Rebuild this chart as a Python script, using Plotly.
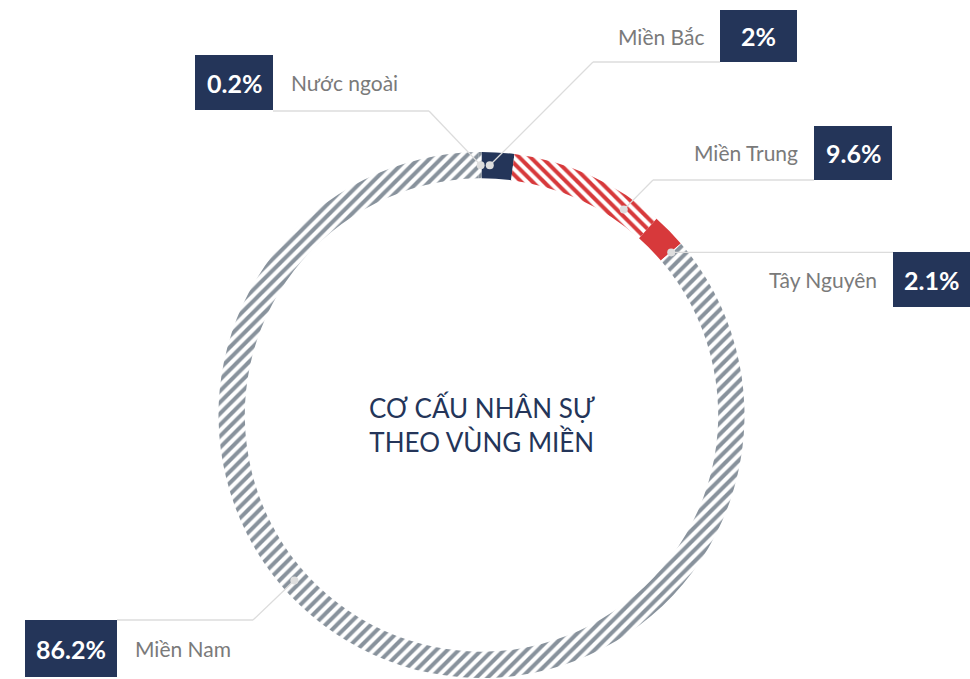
import math
import plotly.graph_objects as go

# ---- data ----
regions = ["Miền Bắc", "Miền Trung", "Tây Nguyên", "Miền Nam", "Nước ngoài"]
shares = [2, 9.6, 2.1, 86.2, 0.2]
title_lines = ["CƠ CẤU NHÂN SỰ", "THEO VÙNG MIỀN"]

# ---- style ----
W, H = 970, 679
OFF = 0  # body margin removed by post_script
NAVY = "#243559"
RED = "#d7393b"
GRAY = "#88929c"
LABEL = "#7a7a7a"
LINE = "#dcdcdc"
FONT = "Lato"

CX, CY, R_OUT = 481.5, 415.0, 263.0
HOLE = 0.90
R_MID = R_OUT * (1 + HOLE) / 2

def P(x, y):
    return (x - OFF) / W, 1 - (y - OFF) / H

x0, _ = P(CX - R_OUT, 0)
x1, _ = P(CX + R_OUT, 0)
_, y1 = P(0, CY - R_OUT)
_, y0 = P(0, CY + R_OUT)

fig = go.Figure()
fig.add_trace(go.Pie(
    labels=regions,
    values=shares,
    sort=False,
    direction="clockwise",
    rotation=0,
    hole=HOLE,
    textinfo="none",
    hoverinfo="label+value",
    showlegend=False,
    domain=dict(x=[x0, x1], y=[y0, y1]),
    marker=dict(
        colors=[NAVY, "white", RED, "white", "white"],
        line=dict(width=0),
        pattern=dict(
            shape=["", "\\", "", "/", "/"],
            fgcolor=[NAVY, RED, RED, GRAY, GRAY],
            bgcolor=["white", "white", "white", "white", "white"],
            size=8,
            solidity=0.5,
        ),
    ),
))

# label layout: anchor angle (deg clockwise from top), elbow point, box rect, side
label_layout = {
    "Miền Bắc":   dict(ang=1.9,   elbow=(593, 62),  box=(720, 10, 797, 62),   side="right"),
    "Miền Trung": dict(ang=34.7,  elbow=(653, 180), box=(814, 126, 892, 180), side="right"),
    "Tây Nguyên": dict(ang=49.4,  elbow=None,       box=(893, 252, 970, 307), side="right"),
    "Miền Nam":   dict(ang=228.5, elbow=(253, 620), box=(25, 620, 117, 677),  side="left"),
    "Nước ngoài": dict(ang=-0.2,  elbow=(429, 111), box=(195, 55, 273, 110),  side="left"),
}

shapes = []
annotations = []
for name, val in zip(regions, shares):
    cfg = label_layout[name]
    a = math.radians(cfg["ang"])
    dx, dy = CX + R_MID * math.sin(a), CY - R_MID * math.cos(a)
    bx0, by0, bx1, by1 = cfg["box"]
    if cfg["elbow"] is None:
        pts = [(dx, dy), (bx0, dy)]
    else:
        ey = cfg["elbow"][1]
        endx = bx0 if cfg["side"] == "right" else bx1
        pts = [(dx, dy), cfg["elbow"], (endx, ey)]
    for (ax, ay), (bx, by) in zip(pts[:-1], pts[1:]):
        p0, p1 = P(ax, ay), P(bx, by)
        shapes.append(dict(type="line", xref="paper", yref="paper",
                           x0=p0[0], y0=p0[1], x1=p1[0], y1=p1[1],
                           line=dict(color=LINE, width=1.3), layer="above"))
    d0, d1 = P(dx - 4, dy - 4), P(dx + 4, dy + 4)
    shapes.append(dict(type="circle", xref="paper", yref="paper",
                       x0=d0[0], y0=d1[1], x1=d1[0], y1=d0[1],
                       fillcolor="#dedede", line=dict(width=0), layer="above"))
    q0, q1 = P(bx0, by1), P(bx1, by0)
    shapes.append(dict(type="rect", xref="paper", yref="paper",
                       x0=q0[0], y0=q0[1], x1=q1[0], y1=q1[1],
                       fillcolor=NAVY, line=dict(width=0), layer="above"))
    cxb, cyb = P((bx0 + bx1) / 2, (by0 + by1) / 2)
    annotations.append(dict(x=cxb, y=cyb, xref="paper", yref="paper",
                            text=f"<b>{val:g}%</b>", showarrow=False,
                            xanchor="center", yanchor="middle",
                            font=dict(family=FONT, size=25, color="white")))
    if cfg["side"] == "right":
        tx, ty = P(bx0 - 14, (by0 + by1) / 2)
        xa = "right"
    else:
        tx, ty = P(bx1 + 16, (by0 + by1) / 2)
        xa = "left"
    annotations.append(dict(x=tx, y=ty, xref="paper", yref="paper",
                            text=name, showarrow=False,
                            xanchor=xa, yanchor="middle",
                            font=dict(family=FONT, size=21, color=LABEL)))

tx, ty = P(CX, 424)
annotations.append(dict(x=tx, y=ty, xref="paper", yref="paper",
                        text="<br>".join(title_lines), showarrow=False,
                        xanchor="center", yanchor="middle", align="center",
                        font=dict(family=FONT, size=26, color=NAVY)))

fig.update_layout(
    width=W, height=H,
    margin=dict(l=0, r=0, t=0, b=0),
    paper_bgcolor="white",
    plot_bgcolor="white",
    shapes=shapes,
    annotations=annotations,
)

fig.write_html(
    "out.html",
    config={"displayModeBar": False},
    post_script="document.body.style.margin='0';document.body.style.overflow='hidden';",
)
